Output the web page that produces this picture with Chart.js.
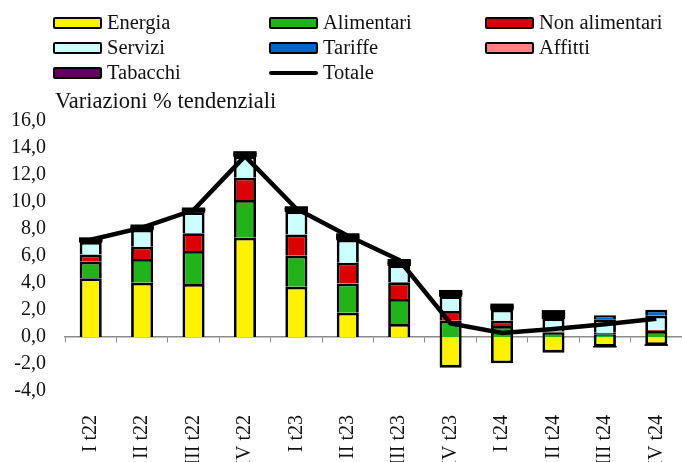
<!DOCTYPE html>
<html>
<head>
<meta charset="utf-8">
<script src="https://cdn.jsdelivr.net/npm/chart.js@4"></script>
<style>
  html, body { margin:0; padding:0; background:#fff; width:682px; height:462px; overflow:hidden; }
  #wrap { position:relative; width:682px; height:462px; overflow:hidden; }
  #c { position:absolute; left:0; top:0; }
  .leg { position:absolute; font-family:"Liberation Serif", serif; font-size:20.5px; color:#111; line-height:1; white-space:nowrap; }
  .sw { position:absolute; width:45px; height:8px; border:2px solid #000; border-radius:2px; }
  .ln { position:absolute; width:49px; height:4px; background:#000; border-radius:2px; }
  #title { position:absolute; left:55px; top:88px; font-family:"Liberation Serif", serif; font-size:22.5px; color:#111; white-space:nowrap; }
</style>
</head>
<body>
<div id="wrap">
  <canvas id="c" width="682" height="480"></canvas>
  <div id="legend"></div>
  <div id="title">Variazioni % tendenziali</div>
</div>
<script>
const categories = ["I t22","II t22","III t22","IV t22","I t23","II t23","III t23","IV t23","I t24","II t24","III t24","IV t24"];
const energia       = [4.35, 4.02, 3.93, 7.36, 3.73, 1.80, 0.96, -2.27, -1.95, -1.16, -0.72, -0.60];
const alimentari    = [1.23, 1.76, 2.44, 2.79, 2.29, 2.17, 1.85, 1.21, 0.82, 0.35, 0.20, 0.45];
const nonAlimentari = [0.54, 0.91, 1.31, 1.65, 1.58, 1.53, 1.24, 0.72, 0.38, 0.05, 0.12, 0.07];
const servizi       = [0.92, 1.26, 1.57, 1.58, 1.70, 1.71, 1.25, 1.10, 0.82, 0.97, 1.00, 1.05];
const tariffe       = [0.12, 0.12, 0.12, 0.12, 0.12, 0.16, 0.16, 0.14, 0.14, 0.16, 0.30, 0.45];
const affitti       = [0.07, 0.09, 0.07, 0.09, 0.09, 0.11, 0.11, 0.11, 0.11, 0.16, 0.00, 0.00];
const tabacchi      = [0.11, 0.13, 0.11, 0.13, 0.13, 0.16, 0.16, 0.16, 0.16, 0.26, 0.00, 0.00];
const totale        = [7.2, 8.1, 9.4, 13.4, 9.5, 7.5, 5.7, 1.0, 0.3, 0.6, 0.95, 1.35];
const yTicks = [-4, 16, 2]; // min, max, step

const seriesNames  = ["Energia","Alimentari","Non alimentari","Servizi","Tariffe","Affitti","Tabacchi","Totale"];
const seriesColors = ["#FFF200","#22B31A","#DD0000","#CCFFFF","#0066CC","#FF8080","#5E005E","#000000"];
const barSeries = [energia, alimentari, nonAlimentari, servizi, tariffe, affitti, tabacchi];

// HTML legend (3 columns grid)
const legend = document.getElementById('legend');
const colX = [53, 269, 485];
const rowY = [23, 48, 73];
seriesNames.forEach((name, i) => {
  const col = i % 3, row = Math.floor(i / 3);
  const x = colX[col], y = rowY[row];
  const mark = document.createElement('div');
  if (i < 7) {
    mark.className = 'sw';
    mark.style.left = x + 'px';
    mark.style.top = (y - 6) + 'px';
    mark.style.background = seriesColors[i];
  } else {
    mark.className = 'ln';
    mark.style.left = x + 'px';
    mark.style.top = (y - 2) + 'px';
  }
  legend.appendChild(mark);
  const t = document.createElement('div');
  t.className = 'leg';
  t.textContent = name;
  t.style.left = (x + 54) + 'px';
  t.style.top = (y - 11) + 'px';
  legend.appendChild(t);
});

// very thin segments render as solid outline (black), as in the original
const isCap = (i, v) => i >= 5 || (i === 4 && v < 0.25);
const datasets = barSeries.map((arr, i) => ({
  type: 'bar',
  label: seriesNames[i],
  data: arr,
  backgroundColor: (ctx) => isCap(i, arr[ctx.dataIndex]) ? '#000' : seriesColors[i],
  borderColor: '#000',
  borderWidth: (ctx) => isCap(i, arr[ctx.dataIndex]) ? 0 : 2.8,
  inflateAmount: (ctx) => isCap(i, arr[ctx.dataIndex]) ? 0.6 : 'auto',
  xAxisID: 'x',
  yAxisID: 'y',
  stack: 'comp',
  order: 1,
  categoryPercentage: 1,
  barPercentage: 0.43
}));
datasets.push({
  type: 'line',
  label: 'Totale',
  data: totale,
  borderColor: '#000',
  backgroundColor: '#000',
  borderWidth: 4.5,
  pointRadius: 0,
  tension: 0,
  fill: false,
  xAxisID: 'x',
  yAxisID: 'y',
  stack: 'tot',
  order: 0
});

const serif = "'Liberation Serif', serif";

new Chart(document.getElementById('c'), {
  data: { labels: categories, datasets },
  options: {
    responsive: false,
    animation: false,
    events: [],
    layout: { padding: { top: 121, left: 0, right: 0, bottom: 0 } },
    plugins: { legend: { display: false }, tooltip: { enabled: false }, title: { display: false } },
    scales: {
      x: {
        type: 'category',
        position: 'bottom',
        offset: true,
        grid: { display: false, offset: true },
        border: { display: false },
        ticks: {
          autoSkip: false, minRotation: 90, maxRotation: 90, padding: 16,
          color: '#111', font: { family: serif, size: 20 }
        },
        afterFit: (s) => { s.height = 89; s.paddingLeft = 0; s.paddingRight = 0; }
      },
      x0: {
        type: 'category',
        position: { y: 0 },
        offset: true,
        grid: { display: true, offset: true, drawOnChartArea: false, drawTicks: true, tickLength: 5, color: '#8a8a8a', lineWidth: 1 },
        border: { display: true, color: '#8a8a8a', width: 1.5 },
        ticks: { display: false },
        afterFit: (s) => { s.paddingLeft = 0; s.paddingRight = 0; }
      },
      y: {
        stacked: true,
        min: yTicks[0], max: yTicks[1],
        grid: { display: false, drawTicks: false },
        border: { display: false },
        ticks: {
          stepSize: yTicks[2], padding: 19,
          color: '#111', font: { family: serif, size: 20 },
          callback: (v) => v.toFixed(1).replace('.', ',')
        },
        afterFit: (s) => { s.width = 65; }
      }
    }
  }
});
</script>
</body>
</html>
